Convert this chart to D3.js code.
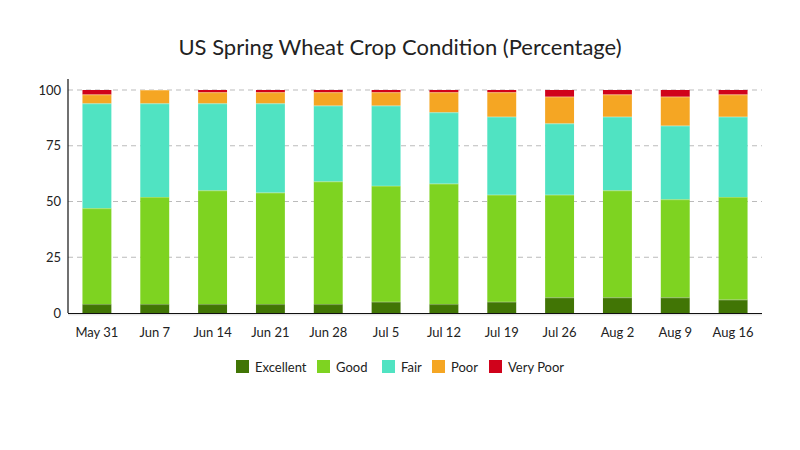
<!DOCTYPE html>
<html><head><meta charset="utf-8">
<script src="https://cdn.jsdelivr.net/npm/d3@7"></script>
<style>body{margin:0;background:#fff}svg{display:block;font-family:Lato,sans-serif}</style>
</head><body><svg id="c" width="800" height="450"></svg>
<script>
const categories = ["May 31","Jun 7","Jun 14","Jun 21","Jun 28","Jul 5","Jul 12","Jul 19","Jul 26","Aug 2","Aug 9","Aug 16"];
const seriesNames = ["Excellent","Good","Fair","Poor","Very Poor"];
const excellent = [4,4,4,4,4,5,4,5,7,7,7,6];
const good      = [43,48,51,50,55,52,54,48,46,48,44,46];
const fair      = [47,42,39,40,34,36,32,35,32,33,33,36];
const poor      = [4,6,5,5,6,6,9,11,12,10,13,10];
const veryPoor  = [2,0,1,1,1,1,1,1,3,2,3,2];
const colors = ["#417505","#7ed321","#50e3c2","#f5a623","#d0021b"];
const yTicks = [0,25,50,75,100];

const svg = d3.select("#c");
const m = {left:68, right:762, top:79, bottom:313};
const rows = categories.map((c,i)=>({cat:c, Excellent:excellent[i], Good:good[i], Fair:fair[i], Poor:poor[i], "Very Poor":veryPoor[i]}));
const x = d3.scaleBand().domain(categories).range([m.left,m.right]).paddingInner(0.5).paddingOuter(0.25);
const yy = d3.scaleLinear().domain([0,100]).range([313,90]);

svg.append("text").attr("x",400).attr("y",55).attr("text-anchor","middle")
  .attr("font-size",22).attr("fill","#222").text("US Spring Wheat Crop Condition (Percentage)");

// grid
const grid = svg.append("g");
grid.selectAll("line").data(yTicks.filter(d=>d>0)).join("line")
  .attr("x1",m.left).attr("x2",m.right).attr("y1",d=>yy(d)).attr("y2",d=>yy(d))
  .attr("stroke","#bbb").attr("stroke-dasharray","5,4").attr("stroke-width",1);

// y labels
const yAxis = svg.append("g").attr("transform",`translate(${m.left},0)`)
  .call(d3.axisLeft(yy).tickValues(yTicks).tickSize(0).tickPadding(7));
yAxis.select(".domain").remove();
yAxis.selectAll("text").attr("font-family","Lato").attr("font-size",13).attr("fill","#222");
svg.append("line").attr("x1",m.left).attr("x2",m.left).attr("y1",m.top).attr("y2",m.bottom).attr("stroke","#111").attr("stroke-width",1.2);

// bars
const stack = d3.stack().keys(seriesNames)(rows);
svg.append("g").selectAll("g").data(stack).join("g").attr("fill",(d,i)=>colors[i])
  .selectAll("rect").data(d=>d).join("rect")
  .attr("x",d=>x(d.data.cat)).attr("width",x.bandwidth())
  .attr("y",d=>yy(d[1])).attr("height",d=>Math.max(0,yy(d[0])-yy(d[1])));
// subtle segment separators
svg.append("g").selectAll("g").data(stack.slice(0,4)).join("g")
  .selectAll("line").data(d=>d).join("line")
  .attr("x1",d=>x(d.data.cat)).attr("x2",d=>x(d.data.cat)+x.bandwidth())
  .attr("y1",d=>yy(d[1])+0.5).attr("y2",d=>yy(d[1])+0.5)
  .attr("stroke","#fff").attr("stroke-opacity",0.25).attr("stroke-width",1);

// x axis
const xAxis = svg.append("g").attr("transform",`translate(0,${m.bottom})`)
  .call(d3.axisBottom(x).tickSize(0).tickPadding(15));
xAxis.select(".domain").remove();
xAxis.selectAll("text").attr("font-family","Lato").attr("font-size",13).attr("fill","#222");
svg.append("line").attr("x1",m.left).attr("x2",m.right).attr("y1",m.bottom+0.5).attr("y2",m.bottom+0.5).attr("stroke","#111").attr("stroke-width",1.2);
svg.append("line").attr("x1",m.left).attr("x2",m.right).attr("y1",m.bottom+1.8).attr("y2",m.bottom+1.8).attr("stroke","#ddd").attr("stroke-width",1);

// legend
const legendX = [236,317,382,432,489];
const lg = svg.append("g").selectAll("g").data(seriesNames).join("g")
  .attr("transform",(d,i)=>`translate(${legendX[i]},360)`);
lg.append("rect").attr("width",13).attr("height",13).attr("fill",(d,i)=>colors[i]);
lg.append("text").attr("x",19).attr("y",11.5).attr("font-size",13).attr("fill","#222").text(d=>d);
</script></body></html>
